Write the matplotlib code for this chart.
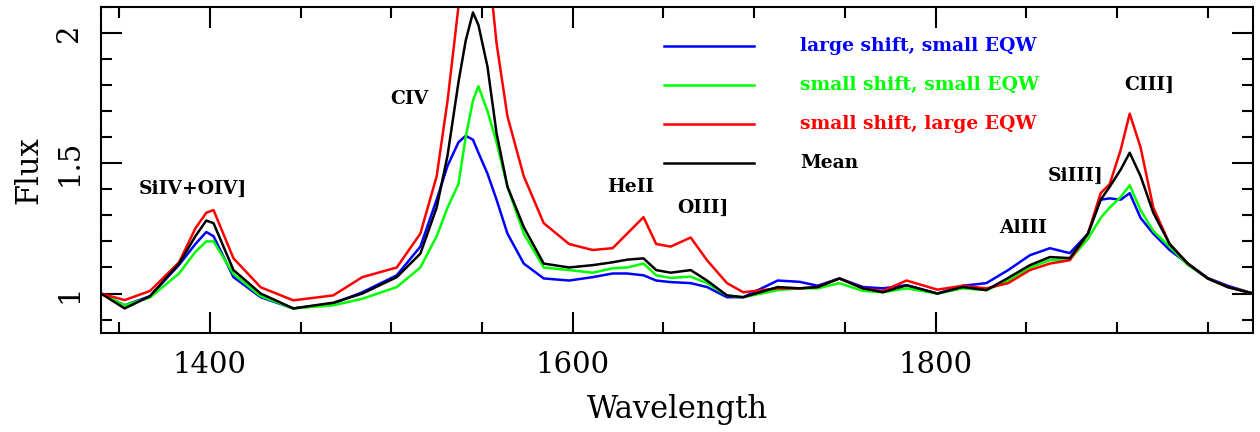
import matplotlib
matplotlib.use("Agg")
import matplotlib.pyplot as plt
from matplotlib.ticker import MultipleLocator, FixedLocator, FixedFormatter

wavelength = [1340, 1353, 1367, 1383, 1392, 1398, 1402, 1413, 1428, 1446, 1468, 1484,
              1503, 1516, 1525, 1531, 1537, 1541, 1545, 1548, 1553, 1558, 1564, 1573,
              1584, 1598, 1611, 1622, 1630, 1639, 1646, 1654, 1665, 1674, 1685, 1694,
              1713, 1725, 1735, 1747, 1760, 1771, 1784, 1801, 1815, 1828, 1840, 1852,
              1863, 1874, 1884, 1891, 1896, 1902, 1907, 1913, 1920, 1929, 1939, 1950,
              1961, 1975]

flux_large_shift_small_eqw = [1.00, 0.955, 0.99, 1.11, 1.19, 1.236, 1.22, 1.063, 0.986, 0.943, 0.962, 1.005,
                              1.07, 1.18, 1.36, 1.49, 1.58, 1.605, 1.59, 1.54, 1.46, 1.36, 1.23, 1.115,
                              1.058, 1.05, 1.063, 1.077, 1.077, 1.07, 1.05, 1.044, 1.04, 1.025, 0.986, 0.986,
                              1.05, 1.045, 1.03, 1.058, 1.025, 1.02, 1.032, 1.00, 1.03, 1.04, 1.09, 1.147,
                              1.174, 1.155, 1.23, 1.36, 1.365, 1.36, 1.385, 1.29, 1.23, 1.167, 1.115, 1.06,
                              1.03, 1.00]

flux_small_shift_small_eqw = [1.00, 0.955, 0.985, 1.077, 1.16, 1.20, 1.20, 1.075, 0.99, 0.943, 0.955, 0.98,
                              1.025, 1.10, 1.22, 1.33, 1.42, 1.60, 1.74, 1.795, 1.70, 1.58, 1.41, 1.23,
                              1.10, 1.09, 1.08, 1.097, 1.10, 1.115, 1.07, 1.06, 1.065, 1.04, 0.993, 0.986,
                              1.013, 1.02, 1.02, 1.04, 1.01, 1.005, 1.02, 1.00, 1.02, 1.013, 1.05, 1.10,
                              1.128, 1.13, 1.21, 1.29, 1.33, 1.37, 1.415, 1.32, 1.24, 1.18, 1.11, 1.058,
                              1.025, 1.00]

flux_small_shift_large_eqw = [1.00, 0.975, 1.01, 1.12, 1.25, 1.31, 1.32, 1.135, 1.024, 0.974, 0.993, 1.063,
                              1.10, 1.23, 1.45, 1.74, 2.10, 2.40, 2.60, 2.60, 2.30, 1.96, 1.68, 1.45,
                              1.27, 1.19, 1.167, 1.174, 1.23, 1.293, 1.19, 1.18, 1.215, 1.128, 1.04, 1.005,
                              1.02, 1.02, 1.025, 1.058, 1.02, 1.01, 1.05, 1.015, 1.03, 1.02, 1.04, 1.09,
                              1.115, 1.128, 1.23, 1.385, 1.42, 1.55, 1.69, 1.56, 1.33, 1.19, 1.115, 1.058,
                              1.025, 1.00]

flux_mean = [1.00, 0.943, 0.99, 1.115, 1.22, 1.28, 1.27, 1.09, 1.00, 0.943, 0.965, 1.00,
             1.063, 1.153, 1.33, 1.53, 1.81, 1.97, 2.078, 2.03, 1.87, 1.615, 1.41, 1.255,
             1.115, 1.10, 1.109, 1.12, 1.13, 1.135, 1.09, 1.08, 1.09, 1.05, 0.993, 0.986,
             1.025, 1.02, 1.025, 1.058, 1.02, 1.005, 1.032, 1.00, 1.025, 1.013, 1.06, 1.109,
             1.14, 1.136, 1.23, 1.36, 1.41, 1.475, 1.54, 1.45, 1.31, 1.19, 1.115, 1.058,
             1.025, 1.00]

series_labels = ["large shift, small EQW", "small shift, small EQW",
                 "small shift, large EQW", "Mean"]
series_colors = ["#0000ff", "#00ff00", "#ff0000", "#000000"]

line_names = ["SiIV+OIV]", "CIV", "HeII", "OIII]", "AlIII", "SiIII]", "CIII]"]
line_x = [1390.6, 1509.7, 1632, 1672, 1848, 1877, 1918]
line_y = [1.40, 1.747, 1.41, 1.33, 1.25, 1.45, 1.80]

fig = plt.figure(figsize=(12.6, 4.32), dpi=100)
ax = fig.add_axes([0.0802, 0.2299, 0.9143, 0.7546])

series = [flux_large_shift_small_eqw, flux_small_shift_small_eqw,
          flux_small_shift_large_eqw, flux_mean]
for ys, c in zip(series, series_colors):
    ax.plot(wavelength, ys, color=c, lw=1.8)

ax.set_xlim(1340, 1975)
ax.set_ylim(0.85, 2.1)

serif = "DejaVu Serif"
ax.xaxis.set_major_locator(MultipleLocator(200))
ax.xaxis.set_minor_locator(MultipleLocator(50))
ax.yaxis.set_major_locator(FixedLocator([1.0, 1.5, 2.0]))
ax.yaxis.set_major_formatter(FixedFormatter(["1", "1.5", "2"]))
ax.yaxis.set_minor_locator(MultipleLocator(0.1))
ax.tick_params(which="both", direction="in", top=True, right=True, width=1.5)
ax.tick_params(which="major", length=15, labelsize=21, pad=13)
ax.tick_params(which="minor", length=8)
for lab in ax.get_xticklabels() + ax.get_yticklabels():
    lab.set_fontfamily(serif)
for lab in ax.get_yticklabels():
    lab.set_rotation(90)
    lab.set_va("center")
for sp in ax.spines.values():
    sp.set_linewidth(1.5)

ax.set_xlabel("Wavelength", fontsize=22, family=serif, labelpad=11)
ax.set_ylabel("Flux", fontsize=22, family=serif, labelpad=8)

for name, lx, ly in zip(line_names, line_x, line_y):
    ax.text(lx, ly, name, ha="center", va="center", fontsize=13.5,
            family=serif, fontweight="bold")

# legend
x0, x1, xt = 0.489, 0.567, 0.607
ys_leg = [0.880, 0.760, 0.641, 0.521]
for lbl, c, yy in zip(series_labels, series_colors, ys_leg):
    ax.plot([x0, x1], [yy, yy], color=c, lw=1.8, transform=ax.transAxes)
    ax.text(xt, yy, lbl, color=c, fontsize=13.5, family=serif, fontweight="bold",
            ha="left", va="center", transform=ax.transAxes)

fig.savefig("out.png", dpi=100)
